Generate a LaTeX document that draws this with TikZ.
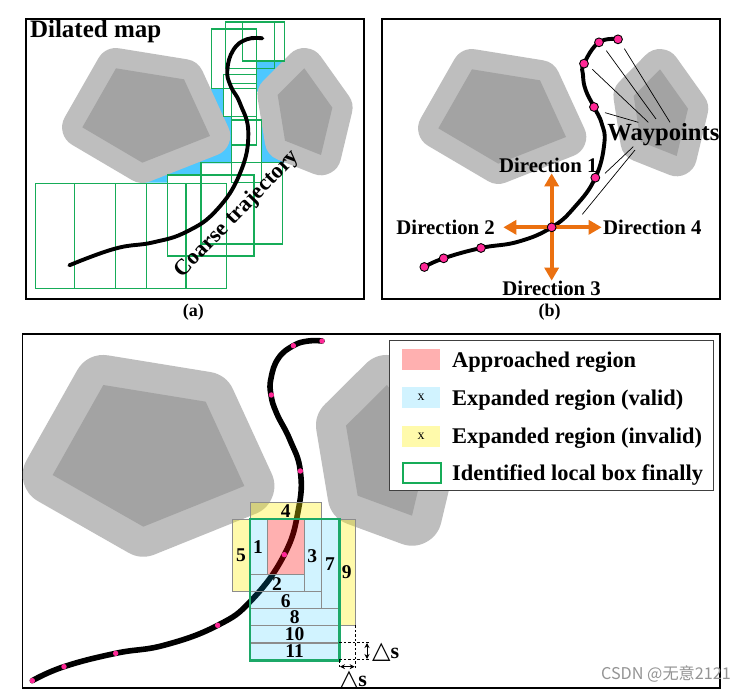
\documentclass[tikz,border=0pt]{standalone}
\usepackage{fontspec}
\setmainfont{Liberation Serif}
\newfontfamily\symfont{DejaVu Sans}
\newfontfamily\cjkfont{Noto Sans CJK SC}
\usetikzlibrary{arrows.meta}
\definecolor{outergrey}{RGB}{190,190,190}
\definecolor{innergrey}{RGB}{163,163,163}
\definecolor{skyfill}{RGB}{77,200,255}
\definecolor{boxgreen}{RGB}{22,172,88}
\definecolor{finalgreen}{RGB}{28,168,104}
\definecolor{dotpink}{RGB}{255,40,150}
\definecolor{dirorange}{RGB}{235,112,16}
\definecolor{cellline}{RGB}{140,140,140}
\definecolor{cyanfill}{RGB}{0,189,255}
\newcommand{\fsz}[1]{\fontsize{#1}{#1}\selectfont\bfseries}
\tikzset{
  x=1pt,y=-1pt,
  zooma/.style={shift={(20,10)},x=0.33333pt,y=-0.33333pt},
  zoomb/.style={shift={(375,10)},x=0.33333pt,y=-0.33333pt},
  zoomc/.style={shift={(15,330)},x=0.33333pt,y=-0.33333pt},
  zoomd/.style={shift={(220,490)},x=0.33333pt,y=-0.33333pt},
  zoome/.style={shift={(380,335)},x=0.33333pt,y=-0.33333pt},
  panel/.style={draw=black,line width=1.7pt,fill=white},
  outerpoly/.style={draw=outergrey,fill=outergrey,line join=round},
  innerpoly/.style={fill=innergrey},
  greenbox/.style={draw=boxgreen,line width=1.6pt},
  traj/.style={draw=black,line cap=round,line join=round},
  wayp/.style={circle,draw=black,fill=dotpink,line width=0.9pt,minimum size=8.8pt,inner sep=0pt},
  waysmall/.style={circle,fill=dotpink,minimum size=5.4pt,inner sep=0pt},
  leader/.style={draw=black,line width=0.7pt},
  dirarrow/.style={draw=dirorange,line width=4pt,-{Triangle[length=13pt,width=14pt,fill=dirorange]}},
  dirlabel/.style={font=\fsz{20.8},inner sep=0pt},
  cellnum/.style={font=\fsz{19.5},inner sep=0pt},
  validcell/.style={fill=cyanfill,fill opacity=0.18,draw=cellline,line width=0.7pt},
  invalidcell/.style={fill=yellow,fill opacity=0.33,draw=cellline,line width=0.7pt},
  reachcell/.style={fill=red,fill opacity=0.31},
  legendtext/.style={font=\fsz{22.4},anchor=base west,inner sep=0pt},
  dimline/.style={draw=black,line width=0.7pt,dash pattern=on 2.5pt off 2pt},
  dimarrow/.style={draw=black,line width=0.9pt,{Stealth[length=5pt,width=5pt]}-{Stealth[length=5pt,width=5pt]}},
}
\begin{document}
\begin{tikzpicture}
\useasboundingbox (0,0) rectangle (747,692);
\fill[white] (0,0) rectangle (747,692);

% ---------- panel (a)
\begin{scope}[zooma]
\draw[panel] (18,28) rectangle (1032,868);
\fill[skyfill] (575,235)--(610,235)--(610,320)--(635,320)--(635,460)--(543,460)--(543,495)--(443,495)--(443,518)--(370,518)--(500,400)--cycle;
\fill[skyfill] (710,153)--(790,153)--(720,245)--(710,245)--cycle;
\fill[skyfill] (725,330)--(725,458)--(795,458)--(740,380)--cycle;
\draw[outerpoly,line width=40.5pt] (288,175)--(492,208)--(570,378)--(367,458)--(187,352)--cycle;
\fill[innerpoly] (288,175)--(492,208)--(570,378)--(367,458)--(187,352)--cycle;
\draw[outerpoly,line width=40.5pt] (853,175)--(937,293)--(903,435)--(795,392)--(773,255)--cycle;
\fill[innerpoly] (853,175)--(937,293)--(903,435)--(795,392)--(773,255)--cycle;
\draw[greenbox] (46,520) rectangle (620,836);
\draw[greenbox] (163,520)--(163,836) (286,520)--(286,836) (380,520)--(380,836) (498,520)--(498,836);
\draw[greenbox] (443,495) rectangle (702,738);
\draw[greenbox] (543,458) rectangle (787,702);
\draw[greenbox] (635,330) rectangle (725,517);
\draw[greenbox] (635,220) rectangle (710,405);
\draw[greenbox] (611,193) rectangle (710,320);
\draw[greenbox] (575,57) rectangle (710,235);
\draw[greenbox] (617,36) rectangle (763,175);
\draw[greenbox] (668,36) rectangle (793,153);
\draw[traj,line width=3.9pt] plot[smooth,tension=0.75] coordinates {(148,766)(285,716)(400,697)(500,665)(590,600)(660,490)(685,370)(660,280)(632,228)(622,180)(640,120)(680,88)(727,85)};
\node[font=\fsz{25},inner sep=0pt] (dilated) at (227,65) {Dilated map};
\node[font=\fsz{22.4},inner sep=0pt,rotate=46] (coarse) at (652,612) {Coarse trajectory};
\node[font=\fsz{18},inner sep=0pt] (capa) at (520,908) {(a)};
\end{scope}

% ---------- panel (b)
\begin{scope}[zoomb]
\draw[panel] (22,28) rectangle (1035,868);
\draw[outerpoly,line width=40.5pt] (291,178)--(495,211)--(573,381)--(370,461)--(190,355)--cycle;
\fill[innerpoly] (291,178)--(495,211)--(573,381)--(370,461)--(190,355)--cycle;
\draw[outerpoly,line width=40.5pt] (855,178)--(939,296)--(905,438)--(797,395)--(776,258)--cycle;
\fill[innerpoly] (855,178)--(939,296)--(905,438)--(797,395)--(776,258)--cycle;
\draw[traj,line width=3.9pt] plot[smooth,tension=0.75] coordinates {(148,771)(206,745)(318,714)(430,695)(530,652)(600,590)(661,503)(688,400)(680,340)(657,291)(632,240)(624,195)(627,161)(672,97)(729,88)};
\coordinate (cross) at (530,652);
\coordinate (dirtop) at (530,490);
\coordinate (dirleft) at (385,652);
\coordinate (dirright) at (680,652);
\coordinate (dirbottom) at (530,812);
\draw[dirarrow] (cross)--(dirtop);
\draw[dirarrow] (cross)--(dirleft);
\draw[dirarrow] (cross)--(dirright);
\draw[dirarrow] (cross)--(dirbottom);
\node[wayp] (w1) at (148,771) {};
\node[wayp] (w2) at (206,745) {};
\node[wayp] (w3) at (318,714) {};
\node[wayp] (w4) at (530,652) {};
\node[wayp] (w5) at (661,503) {};
\node[wayp] (w6) at (657,291) {};
\node[wayp] (w7) at (627,161) {};
\node[wayp] (w8) at (672,97) {};
\node[wayp] (w9) at (729,88) {};
\coordinate (l1a) at (748,116); \coordinate (l1b) at (885,337);
\coordinate (l2a) at (694,122); \coordinate (l2b) at (843,327);
\coordinate (l3a) at (652,178); \coordinate (l3b) at (820,337);
\coordinate (l4a) at (690,308); \coordinate (l4b) at (790,337);
\coordinate (l5a) at (775,410); \coordinate (l5b) at (690,490);
\coordinate (l6a) at (780,420); \coordinate (l6b) at (622,613);
\draw[leader] (l1a)--(l1b);
\draw[leader] (l2a)--(l2b);
\draw[leader] (l3a)--(l3b);
\draw[leader] (l4a)--(l4b);
\draw[leader] (l5a)--(l5b);
\draw[leader] (l6a)--(l6b);
\node[font=\fsz{24.6},inner sep=0pt] (wplabel) at (865,375) {Waypoints};
\node[dirlabel] (d1) at (520,465) {Direction 1};
\node[dirlabel] (d2) at (212,652) {Direction 2};
\node[dirlabel] (d3) at (530,835) {Direction 3};
\node[dirlabel] (d4) at (832,652) {Direction 4};
\node[font=\fsz{18},inner sep=0pt] (capb) at (524,908) {(b)};
\end{scope}

% ---------- panel (c)
\draw[panel] (22.5,334) rectangle (720,688);
\begin{scope}[zoomc]
\draw[outerpoly,line width=60pt] (265,165)--(572,215)--(688,468)--(385,590)--(113,435)--cycle;
\fill[innerpoly] (265,165)--(572,215)--(688,468)--(385,590)--(113,435)--cycle;
\draw[outerpoly,line width=60pt] (1116,165)--(1242,343)--(1191,557)--(1028,497)--(993,287)--cycle;
\fill[innerpoly] (1116,165)--(1242,343)--(1191,557)--(1028,497)--(993,287)--cycle;
\draw[traj,line width=5.6pt] plot[smooth,tension=0.75] coordinates {(52,1052)(147,1010)(302,970)(450,945)(608,886)(710,810)(808,674)(850,540)(856,423)(825,330)(785,250)(768,195)(768,145)(790,85)(835,47)(880,33)(921,33)};
\end{scope}

\begin{scope}[zoomd]
\draw[invalidcell] (92,36) rectangle (304,87);
\draw[invalidcell] (38,87) rectangle (90,304);
\draw[invalidcell] (358,87) rectangle (406,406);
\fill[reachcell] (141,90) rectangle (254,253);
\draw[validcell] (90,87) rectangle (141,253);
\draw[validcell] (90,253) rectangle (254,304);
\draw[validcell] (254,87) rectangle (305,304);
\draw[validcell] (90,304) rectangle (305,355);
\draw[validcell] (305,87) rectangle (358,355);
\draw[validcell] (90,355) rectangle (358,406);
\draw[validcell] (90,406) rectangle (358,458);
\draw[validcell] (90,458) rectangle (358,511);
\draw[cellline,line width=1.2pt] (90,459)--(358,459);
\draw[draw=finalgreen,line width=2.4pt] (90,87) rectangle (358,511);
\coordinate (dh1a) at (358,457); \coordinate (dh1b) at (448,457);
\coordinate (dh2a) at (358,509); \coordinate (dh2b) at (448,509);
\coordinate (dv1a) at (406,406); \coordinate (dv1b) at (406,537);
\coordinate (dv2a) at (358,511); \coordinate (dv2b) at (358,537);
\draw[dimline] (dh1a)--(dh1b);
\draw[dimline] (dh2a)--(dh2b);
\draw[dimline] (dv1a)--(dv1b);
\draw[dimline] (dv2a)--(dv2b);
\coordinate (av1) at (441,459); \coordinate (av2) at (441,507);
\coordinate (ah1) at (360,530); \coordinate (ah2) at (404,530);
\draw[dimarrow] (av1)--(av2);
\draw[dimarrow] (ah1)--(ah2);
\node[cellnum] (n1) at (114,172) {1};
\node[cellnum] (n2) at (171,282) {2};
\node[cellnum] (n3) at (277,197) {3};
\node[cellnum] (n4) at (197,62) {4};
\node[cellnum] (n5) at (63,197) {5};
\node[cellnum] (n6) at (197,332) {6};
\node[cellnum] (n7) at (330,222) {7};
\node[cellnum] (n8) at (224,382) {8};
\node[cellnum] (n9) at (380,247) {9};
\node[cellnum] (n10) at (224,433) {10};
\node[cellnum] (n11) at (224,484) {11};
\node[inner sep=0pt] (ds1) at (497,487) {{\symfont\fontsize{24}{24}\selectfont △}{\fsz{22}s}};
\node[inner sep=0pt] (ds2) at (400,572) {{\symfont\fontsize{24}{24}\selectfont △}{\fsz{22}s}};
\end{scope}

\begin{scope}[zoomc]
\node[waysmall] (c1) at (52,1052) {};
\node[waysmall] (c2) at (147,1010) {};
\node[waysmall] (c3) at (302,970) {};
\node[waysmall] (c4) at (608,886) {};
\node[waysmall] (c5) at (808,674) {};
\node[waysmall] (c6) at (856,423) {};
\node[waysmall] (c7) at (769,195) {};
\node[waysmall] (c8) at (835,47) {};
\node[waysmall] (c9) at (921,33) {};
\end{scope}

% ---------- legend
\begin{scope}[zoome]
\draw[draw=black!75,line width=0.9pt,fill=white] (28,17) rectangle (1001,465);
\fill[red,fill opacity=0.31] (66,42) rectangle (180,105);
\fill[cyanfill,fill opacity=0.18] (66,156) rectangle (180,218);
\fill[yellow,fill opacity=0.33] (66,273) rectangle (180,336);
\draw[draw=boxgreen,line width=1.9pt] (70,383) rectangle (184,445);
\node[font=\fontsize{14}{14}\selectfont,inner sep=0pt] (lx1) at (123,187) {x};
\node[font=\fontsize{14}{14}\selectfont,inner sep=0pt] (lx2) at (123,304) {x};
\node[legendtext] (lg1) at (216,97) {Approached region};
\node[legendtext] (lg2) at (216,212) {Expanded region (valid)};
\node[legendtext] (lg3) at (216,327) {Expanded region (invalid)};
\node[legendtext] (lg4) at (216,438) {Identified local box finally};
\end{scope}

\node[inner sep=0pt,text=black!42,font=\cjkfont\fontsize{16.2}{16.2}\selectfont] (mark) at (666,674) {CSDN @无意2121};
\end{tikzpicture}
\end{document}
